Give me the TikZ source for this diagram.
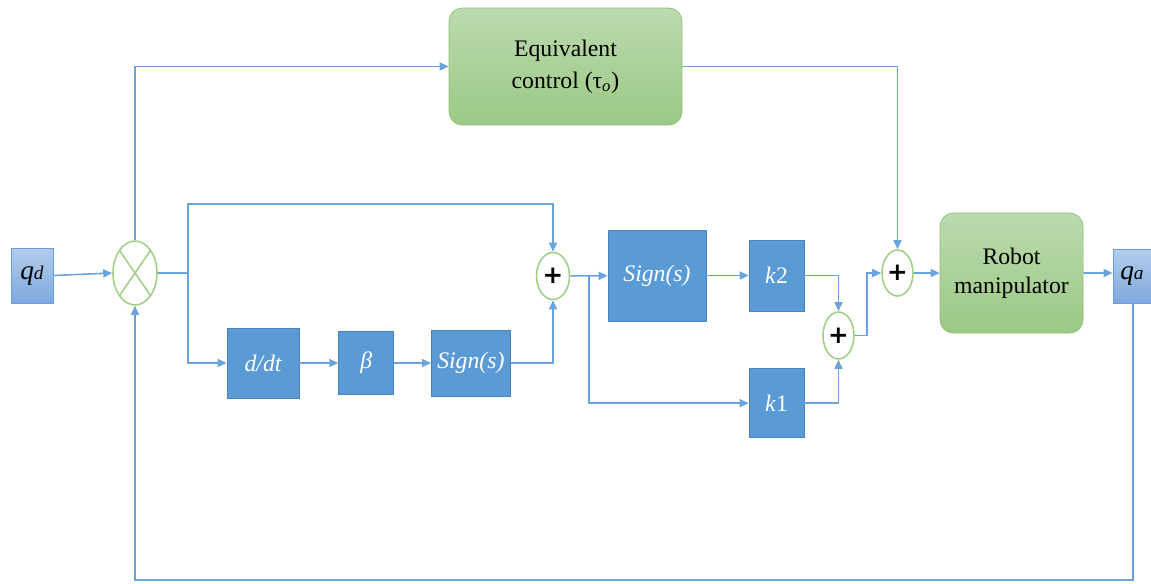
\documentclass[tikz,border=0pt]{standalone}
\usepackage{fontspec}
\setmainfont{Liberation Serif}
\newfontfamily\plusfont{DejaVu Sans}
\usepackage{tikz}
\usetikzlibrary{positioning, arrows.meta, shapes.geometric}
\definecolor{boxBlue}{HTML}{5B9BD5}
\definecolor{boxEdge}{HTML}{4A83BD}
\definecolor{wireBlue}{HTML}{6BA3DD}
\definecolor{portTop}{HTML}{B3CDEC}
\definecolor{portBot}{HTML}{7EA9DE}
\definecolor{portEdge}{HTML}{6E9ED8}
\definecolor{ctlTop}{HTML}{BCDAAE}
\definecolor{ctlBot}{HTML}{9BC985}
\definecolor{ctlEdge}{HTML}{8DC072}
\definecolor{sumGreen}{HTML}{A2D08A}
\tikzset{
  blk/.style    = {draw=boxEdge, fill=boxBlue, text=white, inner sep=2pt,
                   font=\fontsize{13.5}{16}\selectfont\itshape},
  ctl/.style    = {draw=ctlEdge, top color=ctlTop, bottom color=ctlBot, rounded corners=7.5pt,
                   align=center, font=\fontsize{13.5}{18}\selectfont},
  port/.style   = {draw=portEdge, top color=portTop, bottom color=portBot, inner sep=1pt,
                   font=\fontsize{15.5}{16}\selectfont\itshape},
  adder/.style  = {ellipse, draw=sumGreen, line width=0.9pt, fill=white, inner sep=0pt,
                   font=\plusfont\fontsize{14}{14}\selectfont\bfseries},
  mulx/.style   = {adder, path picture={
                     \draw[sumGreen, line width=0.9pt]
                       (path picture bounding box.north west) -- (path picture bounding box.south east)
                       (path picture bounding box.north east) -- (path picture bounding box.south west);}},
  fl/.style     = {-{Triangle[length=1.8mm, width=1.6mm]}, draw=wireBlue, line width=0.9pt},
  ln/.style     = {draw=wireBlue, line width=0.9pt}
}
\begin{document}
\begin{tikzpicture}[x=0.02cm, y=-0.02cm]
  \useasboundingbox (0,0) rectangle (1151,583);
  \node[port, minimum width=0.84cm, minimum height=1.10cm] (qd) at (32,275.5)
    {q{\fontsize{11}{12}\selectfont d}};
  \node[mulx, minimum width=0.88cm, minimum height=1.28cm] (mul) at (135,273) {};
  \node[ctl, minimum width=4.66cm, minimum height=2.34cm] (eq) at (565.5,66.5)
    {Equivalent\\ control (τ\textsubscript{\textit{o}})};
  \node[blk, minimum width=1.44cm, minimum height=1.40cm] (ddt) at (263,363) {d/dt};
  \node[blk, right=0.78cm of ddt, minimum width=1.10cm, minimum height=1.26cm] (beta) {β};
  \node[blk, right=0.74cm of beta, minimum width=1.58cm, minimum height=1.32cm] (sgnA) {Sign(s)};
  \node[adder, minimum width=0.66cm, minimum height=0.94cm] (sumA) at (553,276) {+};
  \node[blk, minimum width=1.96cm, minimum height=1.82cm] (sgnB) at (657,275.5) {Sign(s)};
  \node[blk, minimum width=1.10cm, minimum height=1.42cm] (kb) at (776.5,275.5) {k\textup{2}};
  \node[blk, below=1.14cm of kb, minimum width=1.10cm, minimum height=1.38cm] (ka) {k\textup{1}};
  \node[adder, minimum width=0.62cm, minimum height=0.94cm] (sumB) at (838.5,335.5) {+};
  \node[adder, minimum width=0.62cm, minimum height=0.92cm] (sumC) at (897.5,273) {+};
  \node[ctl, minimum width=2.86cm, minimum height=2.40cm, font=\fontsize{13.5}{16.5}\selectfont]
    (robot) at (1011.5,273) {Robot\\ manipulator};
  \node[port, minimum width=0.76cm, minimum height=1.08cm] (qa) at (1132,276)
    {q{\fontsize{11}{12}\selectfont a}};
  \coordinate (sp1) at (188,273);
  \coordinate (up1) at (188,204);
  \coordinate (sp2) at (589,276);
  \coordinate (jn) at (867,335.5);
  \coordinate (fb) at (1133,580);
  \draw[fl] (qd.east) -- (mul.west);
  \draw[ln] (mul.east) -- (sp1);
  \draw[fl] (sp1) -- (up1) -| (sumA.north);
  \draw[fl] (sp1) |- (ddt.west);
  \draw[fl] (mul.north) |- (eq.west);
  \draw[fl] (eq.east) -| (sumC.north);
  \foreach \a/\b in {ddt/beta, beta/sgnA, sumA/sgnB, sgnB/kb, sumC/robot}
    \draw[fl] (\a) -- (\b);
  \draw[fl] (robot.east |- qa.west) ++(0,-3) -- ([yshift=0.06cm]qa.west);
  \draw[fl] (sgnA.east) -| (sumA.south);
  \draw[fl] (sp2) |- (ka.west);
  \draw[fl] (kb.east) -| (sumB.north);
  \draw[fl] (ka.east) -| (sumB.south);
  \draw[fl] (sumB.east) -- (jn) |- (sumC.west);
  \draw[fl] (qa.south -| fb) -- (fb) -| (mul.south);
\end{tikzpicture}
\end{document}
